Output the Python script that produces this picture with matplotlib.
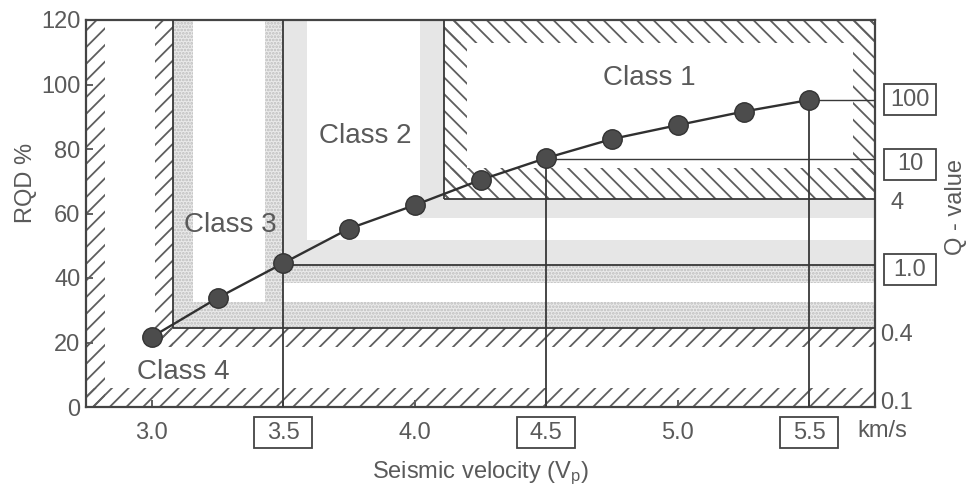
import matplotlib
matplotlib.use('Agg')
import matplotlib.pyplot as plt
import matplotlib.patches as mpatches
import matplotlib.transforms as mtransforms

# =========================================================
# data
# =========================================================
velocity = [3.0, 3.25, 3.5, 3.75, 4.0, 4.25, 4.5, 4.75, 5.0, 5.25, 5.5]
rqd = [21.7, 33.8, 44.6, 55.3, 62.6, 70.4, 77.2, 83.1, 87.4, 91.6, 95.2]

# class boundaries along the velocity axis (km/s)
v_class3_left = 3.08
v_class2_left = 3.5
v_class1_left = 4.11

# Q-value lines and their labels on the right
q_labels = ['100', '10', '4', '1.0', '0.4', '0.1']
q_line_rqd = [95.2, 77.0, 64.5, 44.0, 24.5, 0.0]
q_label_rqd = [95.2, 75.3, 63.3, 42.5, 22.3, 1.2]
q_boxed = [True, True, False, True, False, False]

x_ticks = [3.0, 3.5, 4.0, 4.5, 5.0, 5.5]
x_tick_labels = ['3.0', '3.5', '4.0', '4.5', '5.0', '5.5']
x_boxed = [3.5, 4.5, 5.5]
y_ticks = [0, 20, 40, 60, 80, 100, 120]

class_names = ['Class 1', 'Class 2', 'Class 3', 'Class 4']
class_label_v = [4.89, 3.81, 3.30, 3.12]
class_label_rqd = [102, 84, 56.5, 11]

# =========================================================
# style
# =========================================================
plt.rcParams['font.family'] = ['Liberation Sans', 'DejaVu Sans']
plt.rcParams['mathtext.fontset'] = 'custom'
plt.rcParams['mathtext.rm'] = 'Liberation Sans'
plt.rcParams['mathtext.it'] = 'Liberation Sans'
plt.rcParams['hatch.linewidth'] = 1.3

txt = '#5a5a5a'
ink = '#383838'
xmin, xmax, ymin, ymax = 2.75, 5.75, 0, 120

fig = plt.figure(figsize=(9.68, 4.91), dpi=100)
ax = fig.add_axes([86 / 968, 84 / 491, 789 / 968, 387 / 491])
ax.set_xlim(xmin, xmax)
ax.set_ylim(ymin, ymax)


def band(x0, x1, y0, y1, kind):
    if kind == 'fwd':
        p = mpatches.Rectangle((x0, y0), x1 - x0, y1 - y0, fill=False,
                               hatch='//', edgecolor='#5e5e5e', lw=0, zorder=2)
    elif kind == 'back':
        p = mpatches.Rectangle((x0, y0), x1 - x0, y1 - y0, fill=False,
                               hatch='\\\\', edgecolor='#5e5e5e', lw=0, zorder=2)
    elif kind == 'dots':
        p = mpatches.Rectangle((x0, y0), x1 - x0, y1 - y0, facecolor='#eaeaea',
                               hatch='.....', edgecolor='#bdbdbd', lw=0, zorder=1)
    else:
        p = mpatches.Rectangle((x0, y0), x1 - x0, y1 - y0, facecolor='#e6e6e6',
                               edgecolor='none', lw=0, zorder=1)
    ax.add_patch(p)


# class 4 (outer hatching)
band(xmin, 2.822, ymin, ymax, 'fwd')
band(xmin, xmax, ymin, 5.8, 'fwd')
band(3.013, v_class3_left, 18.6, ymax, 'fwd')
band(3.013, xmax, 18.6, q_line_rqd[4], 'fwd')

# class 3 (stippled)
band(v_class3_left, 3.155, q_line_rqd[4], ymax, 'dots')
band(3.432, v_class2_left, q_line_rqd[4], ymax, 'dots')
band(v_class3_left, xmax, q_line_rqd[4], 32.6, 'dots')
band(v_class2_left, xmax, 38.4, q_line_rqd[3], 'dots')

# class 2 (light grey)
band(v_class2_left, 3.59, q_line_rqd[3], ymax, 'grey')
band(4.02, v_class1_left, q_line_rqd[2], ymax, 'grey')
band(v_class2_left, xmax, q_line_rqd[3], 51.7, 'grey')
band(4.02, xmax, 58.5, q_line_rqd[2], 'grey')

# class 1 (back hatching)
band(v_class1_left, xmax, 113, ymax, 'back')
band(5.665, xmax, q_line_rqd[2], ymax, 'back')
band(v_class1_left, xmax, q_line_rqd[2], 74, 'back')
band(v_class1_left, 4.20, q_line_rqd[2], ymax, 'back')

# boundary lines
lw = 1.3
ax.vlines(v_class3_left, q_line_rqd[4], ymax, color=ink, lw=lw, zorder=3)
ax.vlines(v_class2_left, ymin, ymax, color=ink, lw=lw, zorder=3)
ax.vlines(v_class1_left, q_line_rqd[2], ymax, color=ink, lw=lw, zorder=3)
ax.vlines(velocity[6], ymin, q_line_rqd[1], color=ink, lw=lw, zorder=3)
ax.vlines(velocity[10], ymin, q_line_rqd[0], color=ink, lw=lw, zorder=3)
ax.hlines(q_line_rqd[4], v_class3_left, xmax, color=ink, lw=lw, zorder=3)
ax.hlines(q_line_rqd[3], v_class2_left, xmax, color=ink, lw=lw, zorder=3)
ax.hlines(q_line_rqd[2], v_class1_left, xmax, color=ink, lw=lw, zorder=3)
ax.hlines(q_line_rqd[1], velocity[6], xmax, color=ink, lw=1.0, zorder=3)
ax.hlines(q_line_rqd[0], velocity[10], xmax, color=ink, lw=1.0, zorder=3)

# data curve
ax.plot(velocity, rqd, '-', color='#303030', lw=1.7, zorder=4)
ax.plot(velocity, rqd, 'o', ms=14, mfc='#4c4c4c', mec='#333333', mew=1.0, zorder=5)

# class labels
for name, v, r in zip(class_names, class_label_v, class_label_rqd):
    ax.text(v, r, name, ha='center', va='center', fontsize=20, color=txt, zorder=6)

# axes
for s in ax.spines.values():
    s.set_color('#444444')
    s.set_linewidth(1.6)
ax.set_xticks(x_ticks)
ax.set_xticklabels(x_tick_labels)
ax.set_yticks(y_ticks)
ax.tick_params(direction='in', length=5, width=1.2, color='#444444',
               labelsize=17, labelcolor=txt)
ax.tick_params(axis='x', pad=11)
ax.tick_params(axis='y', pad=4)

ax.set_xlabel('Seismic velocity (V$_\\mathrm{p}$)', fontsize=17, color=txt)
ax.xaxis.set_label_coords(0.5, -0.135)
ax.set_ylabel('RQD %', fontsize=17, color=txt)
ax.yaxis.set_label_coords(-0.062, 0.579)

# boxes around selected x tick labels (fixed size, in inches)
for v in x_boxed:
    tr = fig.dpi_scale_trans + mtransforms.ScaledTranslation(v, 0, ax.get_xaxis_transform())
    ax.add_patch(mpatches.Rectangle((-0.29, -0.41), 0.58, 0.31, transform=tr,
                                    fill=False, ec='#444444', lw=1.3, clip_on=False))

ax.annotate('km/s', xy=(1, 0), xycoords='axes fraction', xytext=(5, -17),
            textcoords='offset points', ha='center', va='center',
            fontsize=17, color=txt, annotation_clip=False)

# Q-value labels on the right
for lbl, r, boxed in zip(q_labels, q_label_rqd, q_boxed):
    dx = 25.2 if boxed else 15.8
    ax.annotate(lbl, xy=(1, r), xycoords=ax.get_yaxis_transform(), xytext=(dx, 0),
                textcoords='offset points', ha='center', va='center',
                fontsize=17, color=txt, annotation_clip=False)
    if boxed:
        tr = fig.dpi_scale_trans + mtransforms.ScaledTranslation(1, r, ax.get_yaxis_transform())
        ax.add_patch(mpatches.Rectangle((0.09, -0.155), 0.52, 0.31, transform=tr,
                                        fill=False, ec='#444444', lw=1.3, clip_on=False))

ax.text(1.103, 0.517, 'Q - value', transform=ax.transAxes, rotation=90,
        ha='center', va='center', fontsize=17, color=txt)

plt.savefig('out.png', dpi=100)
